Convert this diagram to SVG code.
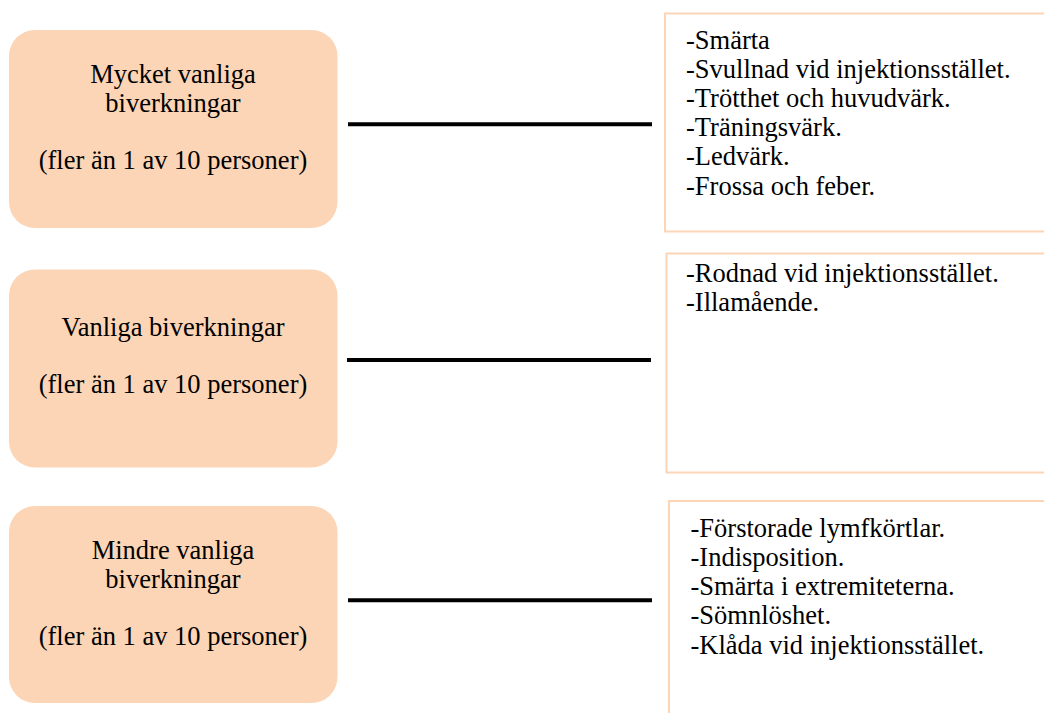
<svg xmlns="http://www.w3.org/2000/svg" width="1044" height="713" viewBox="0 0 1044 713">
<style>
.cat{fill:#FBD5B5;stroke:none}
.list{fill:#FFFFFF;stroke:#FBD5B5;stroke-width:2}
.t{font-family:"Liberation Serif","Times New Roman",serif;font-size:26.5px;fill:#000}
.c{text-anchor:middle}
.ln{stroke:#000;stroke-width:4;fill:none}
</style>
<rect width="1044" height="713" fill="#FFFFFF"/>
<g id="connectors">
<line class="ln" x1="348" y1="124.3" x2="652" y2="124.3"/>
<line class="ln" x1="347" y1="360" x2="651" y2="360"/>
<line class="ln" x1="348" y1="600.3" x2="652" y2="600.3"/>
</g>
<g id="cat1">
<rect class="cat" x="9" y="30" width="328.5" height="198" rx="26"/>
<text class="t c" x="173" y="82.5">Mycket vanliga</text>
<text class="t c" x="173" y="111.5">biverkningar</text>
<text class="t c" x="173" y="168.5">(fler än 1 av 10 personer)</text>
</g>
<g id="cat2">
<rect class="cat" x="9" y="269.5" width="328.5" height="198" rx="26"/>
<text class="t c" x="173" y="335.5">Vanliga biverkningar</text>
<text class="t c" x="173" y="392.5">(fler än 1 av 10 personer)</text>
</g>
<g id="cat3">
<rect class="cat" x="9" y="506" width="328.5" height="197" rx="26"/>
<text class="t c" x="173" y="558.5">Mindre vanliga</text>
<text class="t c" x="173" y="587.5">biverkningar</text>
<text class="t c" x="173" y="644.5">(fler än 1 av 10 personer)</text>
</g>
<g id="list1">
<rect class="list" x="665" y="13.5" width="390" height="218"/>
<text class="t" x="686" y="48.5">-Smärta</text>
<text class="t" x="686" y="77.7">-Svullnad vid injektionsstället.</text>
<text class="t" x="686" y="106.9">-Trötthet och huvudvärk.</text>
<text class="t" x="686" y="136.1">-Träningsvärk.</text>
<text class="t" x="686" y="165.3">-Ledvärk.</text>
<text class="t" x="686" y="194.5">-Frossa och feber.</text>
</g>
<g id="list2">
<rect class="list" x="666.5" y="253.5" width="390" height="219"/>
<text class="t" x="686" y="282">-Rodnad vid injektionsstället.</text>
<text class="t" x="686" y="311.2">-Illamående.</text>
</g>
<g id="list3">
<rect class="list" x="669" y="501" width="390" height="230"/>
<text class="t" x="690.5" y="536.7">-Förstorade lymfkörtlar.</text>
<text class="t" x="690.5" y="565.9">-Indisposition.</text>
<text class="t" x="690.5" y="595.1">-Smärta i extremiteterna.</text>
<text class="t" x="690.5" y="624.3">-Sömnlöshet.</text>
<text class="t" x="690.5" y="653.5">-Klåda vid injektionsstället.</text>
</g>
</svg>
